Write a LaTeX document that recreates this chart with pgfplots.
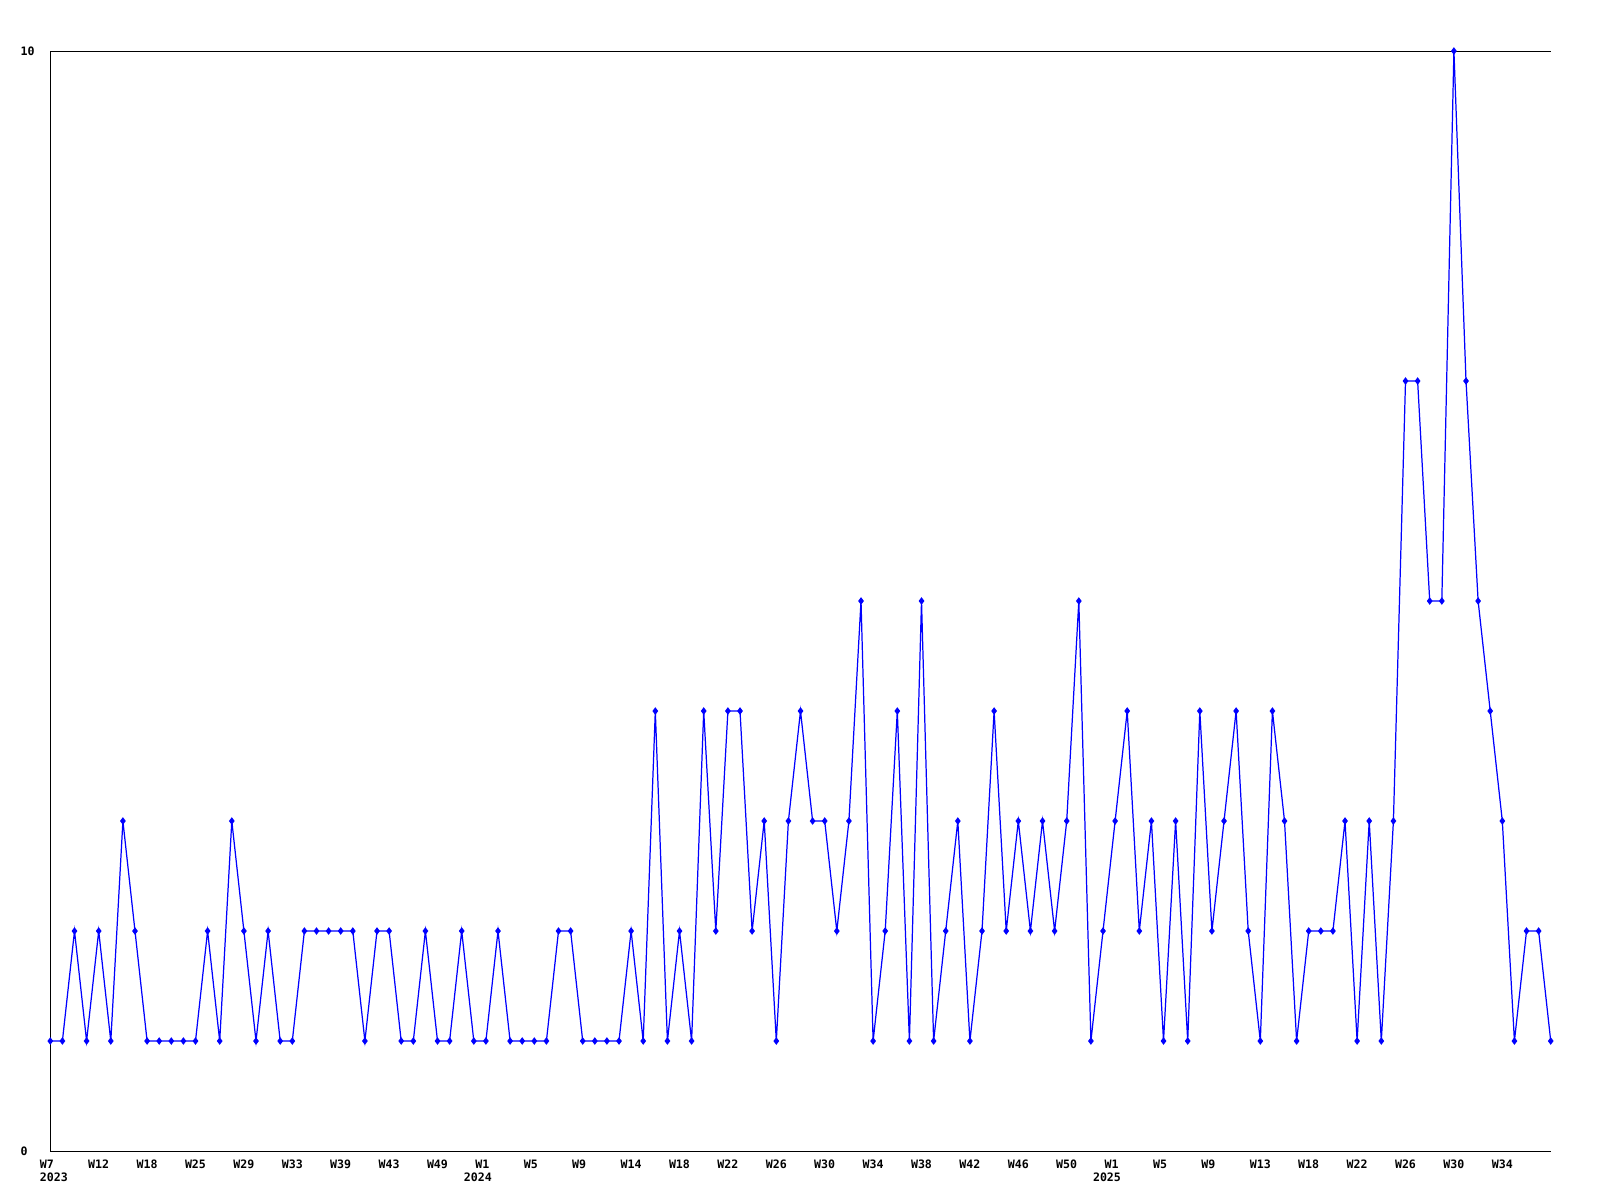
\documentclass[border=0pt]{standalone}
\usepackage{pgfplots}
\pgfplotsset{compat=1.18}
\usepackage{fontspec}
\setmainfont{DejaVu Sans Mono}

\newcommand{\lblfont}{\fontsize{3.3}{3.9}\selectfont\bfseries}

\begin{document}
\begin{tikzpicture}
\useasboundingbox (0,0) rectangle (160mm,120mm);
\begin{axis}[
    at={(5.03mm,4.9mm)}, anchor=south west,
    scale only axis,
    width=150.04mm, height=110.0mm,
    xmin=0, xmax=124,
    ymin=0, ymax=10,
    axis x line=box, axis y line=left,
    axis line style={-, black, line width=0.22pt},
    major tick length=0pt,
    clip=false,
    xtick={0,4,...,120},
    xticklabels={{W7\\2023},W12,W18,W25,W29,W33,W39,W43,W49,
        {W1\\\hspace*{-1.16mm}2024},W5,W9,W14,W18,W22,W26,W30,W34,W38,W42,W46,W50,
        {W1\\\hspace*{-1.16mm}2025},W5,W9,W13,W18,W22,W26,W30,W34},
    ytick={0,10},
    yticklabels={0,10},
    xticklabel style={anchor=north west, inner sep=0pt, xshift=-1.12mm,
        yshift=-0.8mm, align=left, font=\lblfont},
    yticklabel style={anchor=west, inner sep=0pt, xshift=-3.03mm, font=\lblfont},
]
% weekly counts, weeks without entries are not listed
\addplot[color=blue, line width=0.35pt, mark=diamond*, mark size=0.28mm,
    mark options={solid}] coordinates {
    (0,1)(1,1)(2,2)(3,1)(4,2)(5,1)(6,3)(7,2)(8,1)(9,1)
    (10,1)(11,1)(12,1)(13,2)(14,1)(15,3)(16,2)(17,1)(18,2)(19,1)
    (20,1)(21,2)(22,2)(23,2)(24,2)(25,2)(26,1)(27,2)(28,2)(29,1)
    (30,1)(31,2)(32,1)(33,1)(34,2)(35,1)(36,1)(37,2)(38,1)(39,1)
    (40,1)(41,1)(42,2)(43,2)(44,1)(45,1)(46,1)(47,1)(48,2)(49,1)
    (50,4)(51,1)(52,2)(53,1)(54,4)(55,2)(56,4)(57,4)(58,2)(59,3)
    (60,1)(61,3)(62,4)(63,3)(64,3)(65,2)(66,3)(67,5)(68,1)(69,2)
    (70,4)(71,1)(72,5)(73,1)(74,2)(75,3)(76,1)(77,2)(78,4)(79,2)
    (80,3)(81,2)(82,3)(83,2)(84,3)(85,5)(86,1)(87,2)(88,3)(89,4)
    (90,2)(91,3)(92,1)(93,3)(94,1)(95,4)(96,2)(97,3)(98,4)(99,2)
    (100,1)(101,4)(102,3)(103,1)(104,2)(105,2)(106,2)(107,3)(108,1)(109,3)
    (110,1)(111,3)(112,7)(113,7)(114,5)(115,5)(116,10)(117,7)(118,5)(119,4)
    (120,3)(121,1)(122,2)(123,2)(124,1)
};
\end{axis}
\end{tikzpicture}
\end{document}
